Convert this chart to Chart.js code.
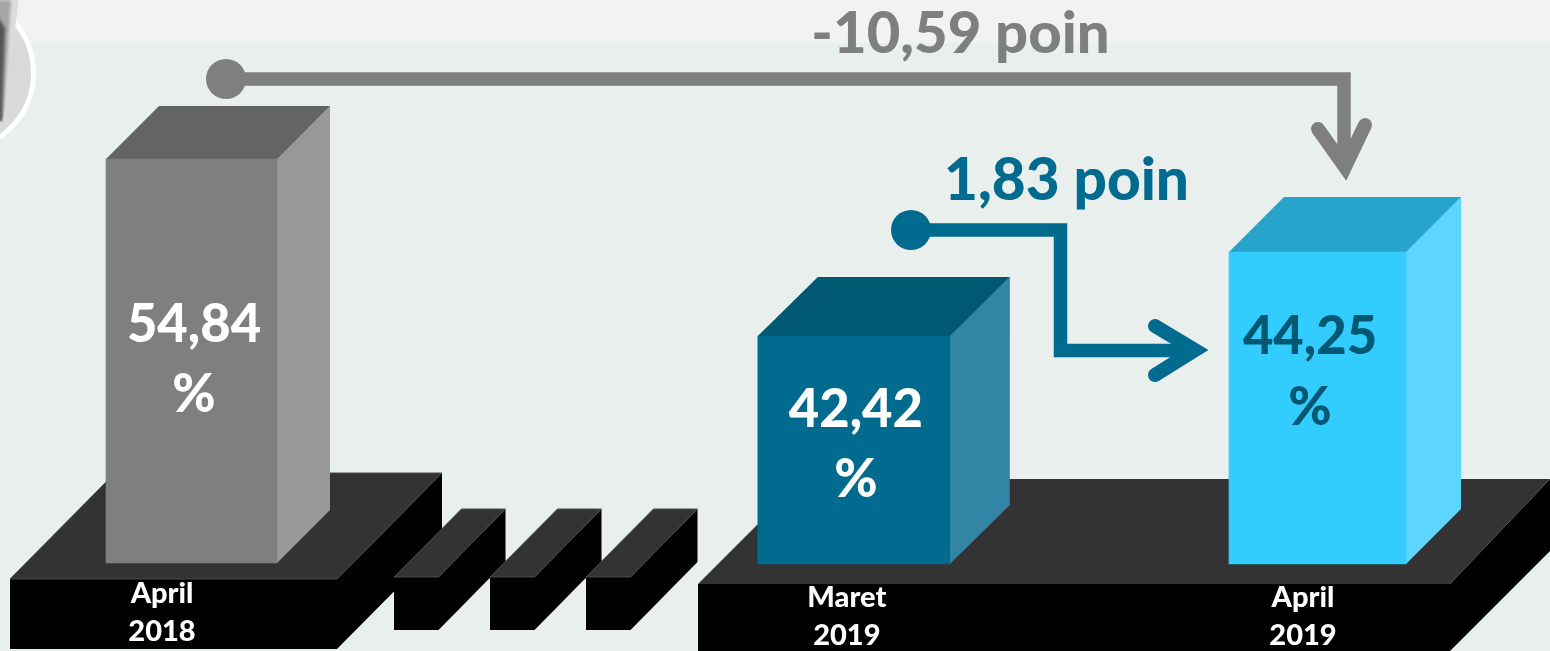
<!DOCTYPE html>
<html>
<head>
<meta charset="utf-8">
<style>html,body{margin:0;padding:0;background:#e8efed}canvas{display:block}</style>
<script src="https://cdn.jsdelivr.net/npm/chart.js@4"></script>
</head>
<body>
<canvas id="c" width="1550" height="651"></canvas>
<script>
// --- data ---
const categories = [['April','2018'],['Maret','2019'],['April','2019']];
const values = [54.84, 42.42, 44.25];
const deltas = [-10.59, 1.83];
const frontColors = ['#7f7f7f','#006b8f','#33ccff'];
const topColors = ['#646464','#005873','#28a4cc'];
const sideColors = ['#989898','#3385a5','#5cd6ff'];
const labelColors = ['#ffffff','#ffffff','#005873'];
// slot of each category along the baseline (the reference spaces them unevenly)
const slots = [0, 10, 17];

// --- layout of the reference (its drawn bar heights are not proportional to the values) ---
const W = 1550, H = 651;
const barWidths = [171, 192, 177];
const barTops = [159, 336, 252];
const barBases = [563, 564, 564];
const depths = [[53,53],[60,59],[55,55]];
const slotPx = 66.235, slot0Px = 191.5;

function yAxis(i){
  const k = (barBases[i]-barTops[i])/values[i];
  const min = -(H-barBases[i])/k;
  return {type:'linear',display:false,min:min,max:min+H/k};
}
const fmt = v => v.toFixed(2).replace('.',',');
const FONT = 'Lato';

function poly(ctx, pts, fill, stroke){
  ctx.beginPath();
  pts.forEach((p,i)=> i?ctx.lineTo(p[0],p[1]):ctx.moveTo(p[0],p[1]));
  ctx.closePath();
  ctx.fillStyle = fill; ctx.fill();
  if(stroke){ctx.strokeStyle=stroke;ctx.lineWidth=1;ctx.stroke();}
}
function text(ctx,str,x,y,size,color){
  ctx.font = '900 '+size+'px '+FONT;
  ctx.fillStyle = color; ctx.textAlign='center'; ctx.textBaseline='alphabetic';
  ctx.fillText(str,x,y);
}
function connector(ctx,color,dot,path,head){
  ctx.fillStyle=color;
  ctx.beginPath();ctx.arc(dot[0],dot[1],20,0,Math.PI*2);ctx.fill();
  ctx.strokeStyle=color;ctx.lineWidth=13.5;ctx.lineJoin='miter';ctx.lineCap='butt';ctx.miterLimit=10;
  ctx.beginPath();path.forEach((p,i)=> i?ctx.lineTo(p[0],p[1]):ctx.moveTo(p[0],p[1]));ctx.stroke();
  ctx.lineCap='round';ctx.lineWidth=14;
  ctx.beginPath();head.forEach((p,i)=> i?ctx.lineTo(p[0],p[1]):ctx.moveTo(p[0],p[1]));ctx.stroke();
  ctx.lineCap='butt';
}

const scenery = {
  id:'scenery',
  beforeDatasetsDraw(chart){
    const ctx = chart.ctx; ctx.save();
    // background
    ctx.fillStyle='#e8efed';ctx.fillRect(0,0,W,H);
    ctx.fillStyle='#f2f2f2';ctx.fillRect(0,0,W,43);
    // photo badge at top left
    ctx.beginPath();ctx.arc(-44,73,77.5,0,Math.PI*2);ctx.fillStyle='#d9d9d9';ctx.fill();
    ctx.strokeStyle='#ffffff';ctx.lineWidth=5;ctx.stroke();
    ctx.save();
    ctx.beginPath();ctx.moveTo(0,0);ctx.lineTo(19,0);ctx.lineTo(3,122);ctx.lineTo(0,122);ctx.closePath();ctx.clip();
    poly(ctx,[[0,0],[19,0],[3,122],[0,122]],'#dcdcdc');
    ctx.filter='blur(1.5px)';
    poly(ctx,[[-4,0],[11,0],[3,122],[-4,122]],'#a6a6a6');
    poly(ctx,[[-4,14],[5,28],[2,120],[-4,122]],'#555555');
    ctx.filter='none';
    ctx.restore();
    // platforms
    const edge='#4a4a4a';
    poly(ctx,[[10,579],[337,579],[442,473],[442,543],[337,649],[10,649]],'#000');
    poly(ctx,[[10,579],[115,473],[442,473],[337,579]],'#333333',edge);
    [394,490,586].forEach(x=>{
      poly(ctx,[[x,577],[x+44.5,577],[x+111.5,509],[x+111.5,562],[x+44.5,630],[x,630]],'#000');
      poly(ctx,[[x,577],[x+67.5,509],[x+111.5,509],[x+44.5,577]],'#333333',edge);
    });
    poly(ctx,[[698,584],[1450,584],[1550,479],[1550,551],[1450,651],[698,651]],'#000');
    poly(ctx,[[698,584],[803,479],[1550,479],[1450,584]],'#333333');
    // upper and right faces of the bars sit just under the front faces drawn by the library
    values.forEach((v,i)=>{
      const b = chart.getDatasetMeta(i).data[0];
      const l=b.x-b.width/2, r=b.x+b.width/2, t=b.y, base=b.base;
      const dx=depths[i][0], dy=depths[i][1];
      poly(ctx,[[r-1,t],[r+dx,t-dy],[r+dx,base-dy],[r,base],[r-1,base]],sideColors[i]);
      poly(ctx,[[l,t+1],[l,t],[l+dx,t-dy],[r+dx,t-dy],[r,t],[r,t+1]],topColors[i]);
    });
    ctx.restore();
  },
  afterDatasetsDraw(chart){
    const ctx = chart.ctx; ctx.save();
    // value labels
    const valueOffsets=[[2.5,342,412],[2,427,497],[-7.5,354,425]];
    values.forEach((v,i)=>{
      const b = chart.getDatasetMeta(i).data[0];
      const o=valueOffsets[i];
      text(ctx,fmt(v),b.x+o[0],o[1],52.5,labelColors[i]);
      text(ctx,'%',b.x+o[0],o[2],52.5,labelColors[i]);
    });
    // category labels
    const catOffsets=[[-29.5,603,641],[-7,607,645],[-14.5,607,645]];
    categories.forEach((c,i)=>{
      const b = chart.getDatasetMeta(i).data[0];
      const o=catOffsets[i];
      text(ctx,c[0],b.x+o[0],o[1],29,'#ffffff');
      text(ctx,c[1],b.x+o[0],o[2],29,'#ffffff');
    });
    // connectors
    connector(ctx,'#7f7f7f',[226,79],[[226,79],[1344,79],[1344,160]],[[1318,129],[1345,167],[1365,125]]);
    connector(ctx,'#006b8f',[911,230],[[911,230],[1060.5,230],[1060.5,350.5],[1190,350.5]],[[1155,326],[1195,350],[1155,375]]);
    text(ctx,(deltas[0]<0?'-':'')+fmt(Math.abs(deltas[0]))+' poin',960.5,53,58,'#7f7f7f');
    text(ctx,fmt(deltas[1])+' poin',1066.5,200,58.5,'#006b8f');
    ctx.restore();
  }
};

new Chart(document.getElementById('c'),{
  type:'bar',
  data:{
    datasets: values.map((v,i)=>({
      label:categories[i].join(' '),
      data:[{x:slots[i],y:v}],
      yAxisID:'y'+i,
      backgroundColor:frontColors[i],
      barThickness:barWidths[i],
      grouped:false,
      borderWidth:0
    }))
  },
  plugins:[scenery],
  options:{
    responsive:false,animation:false,
    layout:{padding:0},
    plugins:{legend:{display:false},tooltip:{enabled:false}},
    scales:{
      x:{type:'linear',display:false,offset:false,min:-slot0Px/slotPx,max:(W-slot0Px)/slotPx},
      y0:yAxis(0),y1:yAxis(1),y2:yAxis(2)
    }
  }
});
</script>
</body>
</html>
